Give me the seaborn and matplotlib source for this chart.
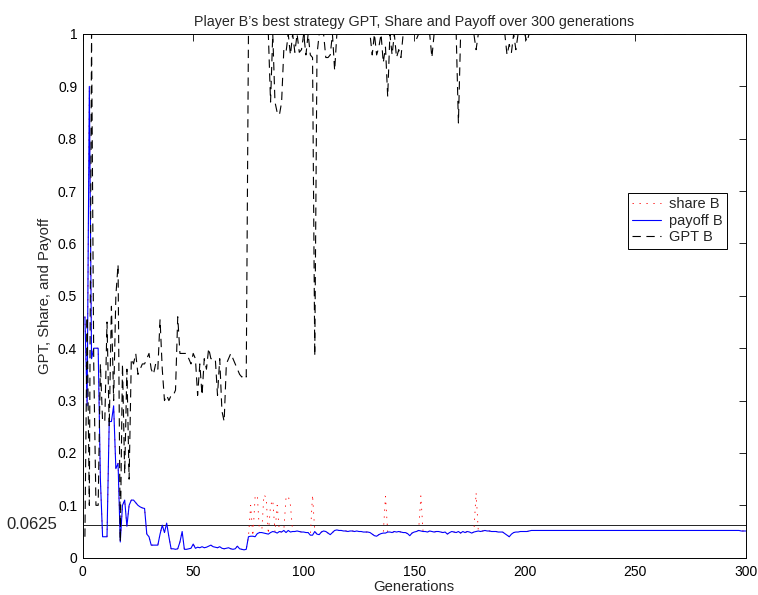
import numpy as np
import pandas as pd
import matplotlib
matplotlib.use("Agg")
import matplotlib.pyplot as plt
import seaborn as sns

# ---- data: one value per generation (1..300) ----
generation = list(range(1, 301))

payoff_b = [
    0.46, 0.29, 0.90, 0.38, 0.40, 0.40, 0.40, 0.15, 0.04, 0.04,
    0.04, 0.26, 0.26, 0.29, 0.17, 0.18, 0.03, 0.10, 0.11, 0.06,
    0.10, 0.11, 0.11, 0.105, 0.10, 0.097, 0.095, 0.094, 0.045, 0.04,
    0.024, 0.024, 0.024, 0.024, 0.045, 0.062, 0.048, 0.066, 0.04, 0.017,
    0.017, 0.016, 0.017, 0.030, 0.050, 0.016, 0.016, 0.017, 0.018, 0.026,
    0.018, 0.020, 0.019, 0.021, 0.019, 0.020, 0.022, 0.024, 0.021, 0.020,
    0.019, 0.021, 0.018, 0.017, 0.018, 0.019, 0.017, 0.016, 0.017, 0.022,
    0.017, 0.016, 0.015, 0.016, 0.040, 0.041, 0.041, 0.040, 0.046, 0.048,
    0.048, 0.047, 0.046, 0.045, 0.048, 0.050, 0.049, 0.047, 0.050, 0.049,
    0.052, 0.048, 0.052, 0.049, 0.050, 0.050, 0.051, 0.050, 0.049, 0.049,
    0.048, 0.048, 0.043, 0.043, 0.050, 0.045, 0.044, 0.049, 0.051, 0.050,
    0.047, 0.044, 0.048, 0.052, 0.053, 0.052, 0.052, 0.051, 0.051, 0.050,
    0.051, 0.051, 0.050, 0.051, 0.050, 0.050, 0.049, 0.049, 0.049, 0.048,
    0.045, 0.042, 0.041, 0.044, 0.046, 0.047, 0.047, 0.049, 0.049, 0.048,
    0.050, 0.049, 0.050, 0.049, 0.048, 0.048, 0.046, 0.042, 0.047, 0.049,
    0.050, 0.052, 0.051, 0.050, 0.050, 0.049, 0.051, 0.050, 0.049, 0.050,
    0.050, 0.049, 0.048, 0.049, 0.045, 0.048, 0.050, 0.049, 0.048, 0.050,
    0.047, 0.050, 0.048, 0.050, 0.049, 0.047, 0.049, 0.050, 0.051, 0.050,
    0.051, 0.052, 0.051, 0.051, 0.050, 0.050, 0.050, 0.049, 0.049, 0.049,
    0.046, 0.043, 0.040, 0.045, 0.048, 0.049, 0.049, 0.050, 0.050, 0.050,
    0.050, 0.051, 0.052, 0.052, 0.052, 0.052, 0.052, 0.052, 0.052, 0.052,
    0.052, 0.052, 0.052, 0.052, 0.052, 0.052, 0.052, 0.052, 0.052, 0.052,
    0.052, 0.052, 0.052, 0.052, 0.052, 0.052, 0.052, 0.052, 0.052, 0.052,
    0.052, 0.052, 0.052, 0.052, 0.052, 0.052, 0.052, 0.052, 0.052, 0.052,
    0.052, 0.052, 0.052, 0.052, 0.052, 0.052, 0.052, 0.052, 0.052, 0.052,
    0.052, 0.052, 0.052, 0.052, 0.052, 0.052, 0.052, 0.052, 0.052, 0.052,
    0.052, 0.052, 0.052, 0.052, 0.052, 0.052, 0.052, 0.052, 0.052, 0.052,
    0.052, 0.052, 0.052, 0.052, 0.052, 0.052, 0.052, 0.052, 0.052, 0.052,
    0.052, 0.052, 0.052, 0.052, 0.052, 0.052, 0.052, 0.052, 0.052, 0.052,
    0.052, 0.052, 0.052, 0.052, 0.052, 0.052, 0.052, 0.051, 0.051, 0.051,
]

# generations where the share departs from the payoff curve
share_peak_gen = [76, 78, 79, 82, 83, 85, 86, 88, 92, 93, 94, 104, 137, 153, 178]
share_peak_val = [0.10, 0.115, 0.12, 0.12, 0.115, 0.10, 0.11, 0.10,
                  0.115, 0.118, 0.10, 0.12, 0.117, 0.118, 0.124]

# GPT of player B's best strategy (generation, value)
gpt_gen = list(range(1, 76)) + [
    84, 85, 86, 87, 88, 89, 90, 91, 92, 93, 94, 95, 96, 97, 98, 99, 100,
    101, 102, 103, 104, 105, 106, 107, 109, 110, 111, 112, 113, 114, 115,
    130, 131, 132, 133, 134, 135, 136, 137, 138, 139, 140, 141, 142, 143,
    144, 145, 150, 151, 152, 157, 158, 159, 169, 170, 171, 177, 178, 179,
    191, 192, 193, 194, 195, 196, 197, 200, 201, 202, 300]
gpt_val = [
    0.04, 0.46, 0.10, 1.00, 0.37, 0.10, 0.10, 0.37, 0.26, 0.26,
    0.45, 0.25, 0.48, 0.30, 0.50, 0.56, 0.03, 0.37, 0.16, 0.36,
    0.15, 0.38, 0.37, 0.39, 0.35, 0.36, 0.37, 0.37, 0.38, 0.39,
    0.36, 0.35, 0.37, 0.36, 0.455, 0.36, 0.30, 0.31, 0.30, 0.31,
    0.31, 0.32, 0.46, 0.39, 0.39, 0.39, 0.39, 0.38, 0.37, 0.39,
    0.38, 0.31, 0.37, 0.31, 0.38, 0.36, 0.40, 0.38, 0.38, 0.38,
    0.31, 0.38, 0.28, 0.26, 0.37, 0.38, 0.39, 0.38, 0.37, 0.36,
    0.35, 0.345, 0.35, 0.345, 1.00,
    1.00, 0.87, 1.00, 0.87, 0.85, 0.845, 0.87, 0.97, 0.965, 1.00,
    0.96, 1.00, 0.965, 1.00, 0.965, 0.97, 1.00, 0.96, 1.00, 0.96,
    0.955, 0.385, 0.96, 1.00, 1.00, 0.955, 0.955, 0.96, 1.00, 0.93,
    1.00, 1.00, 0.96, 1.00, 0.96, 0.975, 1.00, 0.945, 0.975, 0.88,
    1.00, 0.96, 1.00, 0.955, 0.97, 0.955, 1.00, 1.00, 0.99, 1.00,
    1.00, 0.955, 1.00, 1.00, 0.83, 1.00, 1.00, 0.97, 1.00, 1.00,
    0.96, 0.98, 0.965, 1.00, 0.97, 1.00, 1.00, 0.985, 1.00, 1.00]

equal_share = 0.0625

x_ticks = [0, 50, 100, 150, 200, 250, 300]
y_ticks = [0, 0.1, 0.2, 0.3, 0.4, 0.5, 0.6, 0.7, 0.8, 0.9, 1]
y_tick_labels = ["0", "0.1", "0.2", "0.3", "0.4", "0.5", "0.6", "0.7", "0.8", "0.9", "1"]

# ---- tables ----
payoff_df = pd.DataFrame({"generation": generation, "payoff": payoff_b})
share_df = payoff_df.rename(columns={"payoff": "share"}).set_index("generation")
share_df.loc[share_peak_gen, "share"] = share_peak_val
share_df = share_df.reset_index()
gpt_df = pd.DataFrame({"generation": gpt_gen, "gpt": gpt_val})

# ---- style ----
sns.set_theme(style="white")
plt.rcParams["font.family"] = ["Liberation Sans", "DejaVu Sans"]
plt.rcParams["lines.scale_dashes"] = False
plt.rcParams["axes.edgecolor"] = "black"
plt.rcParams["axes.linewidth"] = 0.7

fig = plt.figure(figsize=(7.58, 5.95), dpi=100)
ax = fig.add_axes([0.1091, 0.0627, 0.8747, 0.8802])

sns.lineplot(data=share_df, x="generation", y="share", ax=ax, color="red",
             lw=0.6, linestyle=(0, (1, 4)), label="share B")
sns.lineplot(data=payoff_df, x="generation", y="payoff", ax=ax, color="blue",
             lw=0.8, label="payoff B")
sns.lineplot(data=gpt_df, x="generation", y="gpt", ax=ax, color="black",
             lw=0.8, linestyle=(0, (6, 4)), label="GPT B")
ax.axhline(equal_share, color="black", lw=0.6, zorder=1)

ax.set_xlim(0, 300)
ax.set_ylim(0, 1)
ax.set_xticks(x_ticks)
ax.set_yticks(y_ticks)
ax.set_yticklabels(y_tick_labels)
ax.tick_params(direction="in", top=True, right=True, length=5, width=0.6,
               labelsize=10, colors="black")
ax.tick_params(axis="x", pad=5.5)
ax.tick_params(axis="y", pad=4)

ax.annotate("0.0625", xy=(0, equal_share), xycoords=("axes fraction", "data"),
            xytext=(-18.5, 0), textcoords="offset points", ha="right", va="center",
            fontsize=12)

ax.set_title("Player B\u2019s best strategy GPT, Share and Payoff over 300 generations",
             fontsize=10.3, pad=6)
ax.set_xlabel("Generations", fontsize=10.7, labelpad=0.5)
ax.set_ylabel("GPT, Share, and Payoff", fontsize=10.7, labelpad=4)

leg = ax.legend(loc="upper left", bbox_to_anchor=(0.822, 0.697), fontsize=10.5,
                frameon=True, fancybox=False, framealpha=1, edgecolor="black",
                handlelength=1.95, handletextpad=0.55, labelspacing=0.18,
                borderpad=0.3, borderaxespad=0)
leg.get_frame().set_linewidth(0.7)

fig.savefig("out.png", dpi=100)
